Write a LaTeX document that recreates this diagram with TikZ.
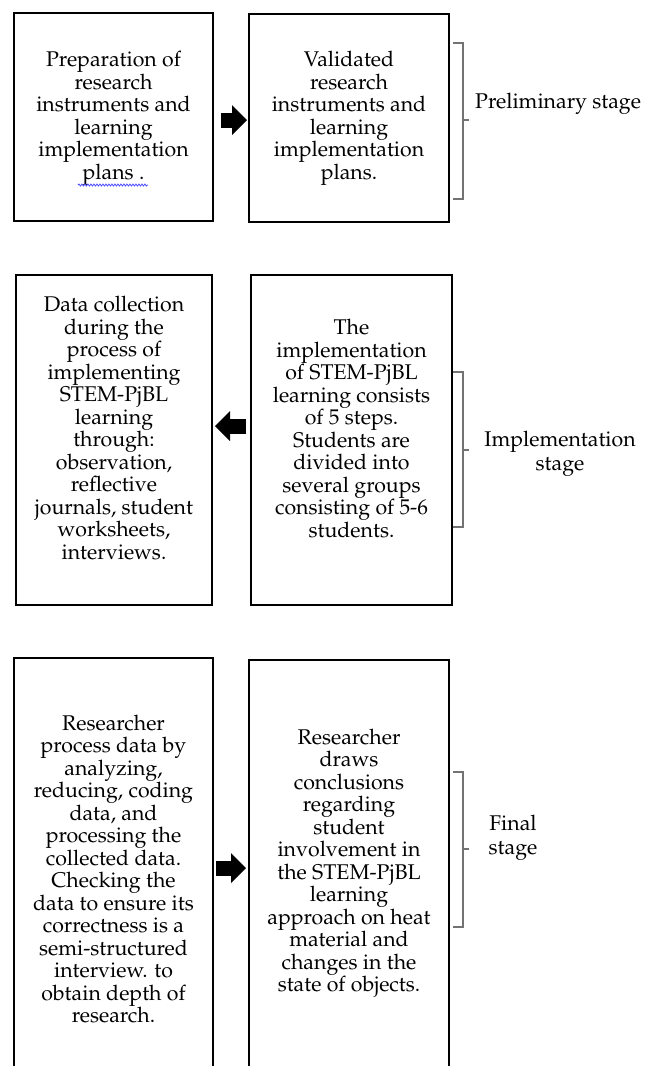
\documentclass[tikz,border=0pt]{standalone}
\usepackage[T1]{fontenc}
\renewcommand{\rmdefault}{ppl}
\usetikzlibrary{arrows.meta,decorations.pathmorphing}
\tikzset{
  box/.style={draw=black, line width=1.1pt, inner sep=0pt, outer sep=0pt, anchor=north west},
  txt/.style={align=center, inner sep=0pt, font=\fontsize{21.3}{22.5}\selectfont},
  stagetxt/.style={align=center, inner sep=0pt, font=\fontsize{21.3}{23.5}\selectfont},
  blockarrow/.style={line width=15pt, -{Triangle[length=15pt,width=30pt,line width=0pt]}},
  bracket/.style={draw=black!55, line width=2pt, line cap=butt},
  spell/.style={draw=blue!70!white, line width=0.8pt, decorate, decoration={snake, amplitude=1pt, segment length=3pt}}
}
\begin{document}
\begin{tikzpicture}[x=1pt,y=1pt]
\useasboundingbox (0,0) rectangle (651,-1066);
\clip (0,0) rectangle (651,-1066);
\fill[white] (0,0) rectangle (651,-1066);

% Row 1
\node[box, minimum width=199pt, minimum height=208pt] (b1) at (14,-13) {};
\node[box, minimum width=200pt, minimum height=208pt] (b2) at (249,-14) {};
\node[txt] (t1) at (113.5,-118.5) {Preparation of\\research\\instruments and\\learning\\implementation\\plans .};
\node[txt] (t2) at (349,-118.5) {Validated\\research\\instruments and\\learning\\implementation\\plans.};
\draw[spell] (78,-185) -- (148,-185);
\draw[blockarrow, shorten <=8pt, shorten >=2pt] ([yshift=-3pt]b1.east) -- ([yshift=-3pt]b1.east -| b2.west);
\draw[bracket] (453,-43) -- (463,-43) -- (463,-199) -- (453,-199);
\draw[bracket] (463,-120) -- (469,-120);
\node[stagetxt, anchor=west] (s1) at (475,-103.5) {Preliminary stage};

% Row 2
\node[box, minimum width=196pt, minimum height=330pt] (b3) at (16,-275) {};
\node[box, minimum width=201pt, minimum height=330pt] (b4) at (251,-275) {};
\node[txt] (t3) at (114,-428) {Data collection\\during the\\process of\\implementing\\STEM-PjBL\\learning\\through:\\observation,\\reflective\\journals, student\\worksheets,\\interviews.};
\node[txt] (t4) at (351.5,-428.5) {The\\implementation\\of STEM-PjBL\\learning consists\\of 5 steps.\\Students are\\divided into\\several groups\\consisting of 5-6\\students.};
\draw[blockarrow, shorten <=5pt, shorten >=3pt] ([yshift=14pt]b4.west) -- ([yshift=14pt]b4.west -| b3.east);
\draw[bracket] (453,-372) -- (463,-372) -- (463,-527) -- (453,-527);
\draw[bracket] (463,-450) -- (469,-450);
\node[stagetxt] (s2) at (560,-454) {Implementation\\stage};

% Row 3
\node[box, minimum width=199pt, minimum height=420pt] (b5) at (14,-658) {};
\node[box, minimum width=200pt, minimum height=418pt] (b6) at (249,-660) {};
\node[txt] (t5) at (113.5,-869) {Researcher\\process data by\\analyzing,\\reducing, coding\\data, and\\processing the\\collected data.\\Checking the\\data to ensure its\\correctness is a\\semi-structured\\interview. to\\obtain depth of\\research.};
\node[txt] (t6) at (349,-863.5) {Researcher\\draws\\conclusions\\regarding\\student\\involvement in\\the STEM-PjBL\\learning\\approach on heat\\material and\\changes in the\\state of objects.};
\draw[blockarrow, shorten <=3pt, shorten >=3pt] (b5.east) -- (b5.east -| b6.west);
\draw[bracket] (453,-772) -- (463,-772) -- (463,-927) -- (453,-927);
\draw[bracket] (463,-849) -- (469,-849);
\node[stagetxt] (s3) at (513,-838) {Final\\stage};
\end{tikzpicture}
\end{document}
